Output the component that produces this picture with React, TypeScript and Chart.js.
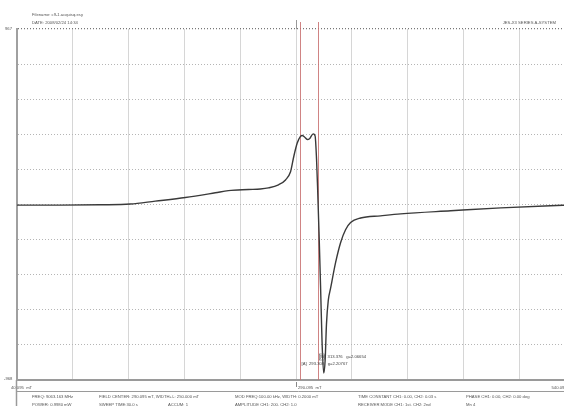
import React, { useEffect, useRef } from "react";
import { Chart, registerables } from "chart.js";

Chart.register(...registerables);

// Magnetic field (mT)
const fieldMT = [
  40.1, 78.7, 114.6, 141.5, 164.0, 190.9, 217.8, 229.5, 247.5, 258.2, 265.4, 274.4,
  280.7, 285.2, 288.1, 291.2, 294.1, 295.7, 297.7, 300.2, 302.2, 305.5, 307.2, 308.5,
  309.4, 310.7, 312.1, 313.4, 314.9, 316.2, 317.4, 319.0, 321.1, 325.6, 330.1, 334.5, 339.0,
  348.0, 365.9, 383.9, 428.8, 473.7, 540.1,
];
// ESR signal intensity
const signal = [
  -4, -4, -2, 2, 18, 38, 64, 76, 82, 85, 91, 108,
  135, 180, 264, 338, 375, 380, 372, 358, 362, 389, 378, 250,
  100, -150, -450, -750, -930, -860, -660, -530, -462, -320, -210, -140, -100,
  -75, -63, -52, -35, -19, -2,
];

const xTicks = [40.095, 90.095, 140.095, 190.095, 240.095, 290.095, 340.095, 390.095, 440.095, 490.095, 540.095];
const yTicks = [-968, -774.5, -581, -387.5, -194, -0.5, 193, 386.5, 580, 773.5, 967];
const xTickLabels = ["40.095  mT", "290.095  mT", "540.095  mT"];
const yTickLabels = ["967", "-968"];

const markerFields = [293.3, 309.9];
const markerLabels = ["[A]  293.308   g=2.20767", "[B]  313.376   g=2.06654"];

const headerLines = ["Filename: c9-1.acquisq.esy", "DATE: 2008/02/24 14:34"];
const systemLabel = "JES-X3 SERIES A-SYSTEM";
const paramRow1 = [
  "FREQ: 9063.163 MHz",
  "FIELD CENTER: 290.095 mT, WIDTH+/-: 250.000 mT",
  "MOD FREQ:100.00 kHz, WIDTH: 0.2000 mT",
  "TIME CONSTANT CH1: 0.00, CH2: 0.03 s",
  "PHASE CH1: 0.00, CH2: 0.00 deg",
];
const paramRow2 = [
  "POWER: 0.9980 mW",
  "SWEEP TIME:30.0 s",
  "ACCUM: 1",
  "AMPLITUDE CH1: 200, CH2: 1.0",
  "RECEIVER MODE CH1: 1st, CH2: 2nd",
  "Mn 4",
];

const FONT = "4.2px 'Liberation Sans', Arial, sans-serif";

const overlay = {
  id: "esrOverlay",
  beforeDatasetsDraw(chart: any) {
    const { ctx, chartArea, scales } = chart;
    ctx.save();
    ctx.strokeStyle = "rgba(200,110,110,0.85)";
    ctx.lineWidth = 1;
    markerFields.forEach((f) => {
      const x = Math.round(scales.x.getPixelForValue(f)) + 0.5;
      ctx.beginPath();
      ctx.moveTo(x, chartArea.top - 7);
      ctx.lineTo(x, chartArea.bottom);
      ctx.stroke();
    });
    const cx = Math.round(scales.x.getPixelForValue(xTicks[5])) + 0.5;
    ctx.strokeStyle = "#999";
    ctx.beginPath();
    ctx.moveTo(cx, chartArea.top - 9);
    ctx.lineTo(cx, chartArea.top);
    ctx.stroke();
    ctx.restore();
  },
  afterDraw(chart: any) {
    const { ctx, chartArea, scales } = chart;
    ctx.save();
    ctx.font = FONT;
    ctx.fillStyle = "#555";
    ctx.textBaseline = "middle";
    ctx.textAlign = "left";
    ctx.fillText(headerLines[0], 32, 15);
    ctx.fillText(headerLines[1], 32, 23);
    ctx.textAlign = "right";
    ctx.fillText(systemLabel, 556, 23);
    ctx.textAlign = "left";
    ctx.fillText(yTickLabels[0], 5, scales.y.getPixelForValue(yTicks[10]));
    ctx.fillText(yTickLabels[1], 4, scales.y.getPixelForValue(yTicks[0]) - 1);
    const yLab = chartArea.bottom + 8;
    ctx.fillText(xTickLabels[0], 11, yLab);
    const cx = scales.x.getPixelForValue(xTicks[5]);
    ctx.fillText(xTickLabels[1], cx + 2, yLab);
    ctx.textAlign = "right";
    ctx.fillText(xTickLabels[2], scales.x.getPixelForValue(xTicks[10]), yLab);
    ctx.textAlign = "left";
    ctx.strokeStyle = "#888";
    ctx.lineWidth = 1;
    ctx.beginPath();
    ctx.moveTo(Math.round(cx) + 0.5, chartArea.bottom + 2);
    ctx.lineTo(Math.round(cx) + 0.5, chartArea.bottom + 7);
    ctx.stroke();
    ctx.strokeStyle = "#9a9a9a";
    ctx.beginPath();
    ctx.moveTo(chartArea.left, 391.5);
    ctx.lineTo(chart.width, 391.5);
    ctx.stroke();
    ctx.lineWidth = 1.5;
    ctx.beginPath();
    ctx.moveTo(chartArea.left - 0.5, chartArea.bottom);
    ctx.lineTo(chartArea.left - 0.5, 406);
    ctx.stroke();
    const cols1 = [32, 99, 235, 358, 466];
    paramRow1.forEach((t, i) => ctx.fillText(t, cols1[i], 397));
    const cols2 = [32, 99, 168, 235, 358, 466];
    paramRow2.forEach((t, i) => ctx.fillText(t, cols2[i], 405));
    const bx = scales.x.getPixelForValue(markerFields[1]);
    ctx.fillStyle = "#444";
    ctx.fillText(markerLabels[1], bx + 2, 357);
    ctx.fillText(markerLabels[0], scales.x.getPixelForValue(markerFields[0]) + 2, 364);
    ctx.strokeStyle = "#666";
    ctx.lineWidth = 0.6;
    ctx.strokeRect(bx + 1.5, 354, 5, 6);
    ctx.restore();
  },
};

export default function App() {
  const ref = useRef<HTMLCanvasElement | null>(null);
  useEffect(() => {
    if (!ref.current) return;
    const chart = new Chart(ref.current, {
      type: "line",
      data: {
        datasets: [
          {
            data: fieldMT.map((x, i) => ({ x, y: signal[i] })),
            borderColor: "#3a3a3a",
            borderWidth: 1.4,
            pointRadius: 0,
            cubicInterpolationMode: "monotone",
            fill: false,
          },
        ],
      },
      options: {
        animation: false,
        responsive: false,
        devicePixelRatio: 1,
        layout: { padding: { left: 17, top: 29, right: 5, bottom: 26 } },
        plugins: { legend: { display: false }, tooltip: { enabled: false } },
        scales: {
          x: {
            type: "linear",
            min: xTicks[0],
            max: xTicks[10],
            afterBuildTicks: (axis: any) => {
              axis.ticks = xTicks.map((v) => ({ value: v }));
            },
            ticks: { display: false },
            grid: { color: "#d6d6d6", lineWidth: 1, drawTicks: false },
            border: { display: true, color: "#9a9a9a", width: 2 },
          },
          y: {
            type: "linear",
            min: yTicks[0],
            max: yTicks[10],
            afterBuildTicks: (axis: any) => {
              axis.ticks = yTicks.map((v) => ({ value: v }));
            },
            ticks: { display: false },
            grid: {
              color: (c: any) => (c.index === 10 ? "#777" : "#b5b5b5"),
              lineWidth: (c: any) => (c.index === 10 ? 1.2 : 1),
              drawTicks: false,
            },
            border: { display: true, color: "#a0a0a0", width: 2, dash: [1, 2] },
          },
        },
      },
      plugins: [overlay],
    } as any);
    return () => chart.destroy();
  }, []);
  return (
    <div style={{ position: "fixed", left: 0, top: 0, width: 564, height: 406, overflow: "hidden", background: "#fff" }}>
      <canvas ref={ref} width={580} height={406} style={{ display: "block", width: 580, height: 406, filter: "blur(0.3px)" }} />
    </div>
  );
}
